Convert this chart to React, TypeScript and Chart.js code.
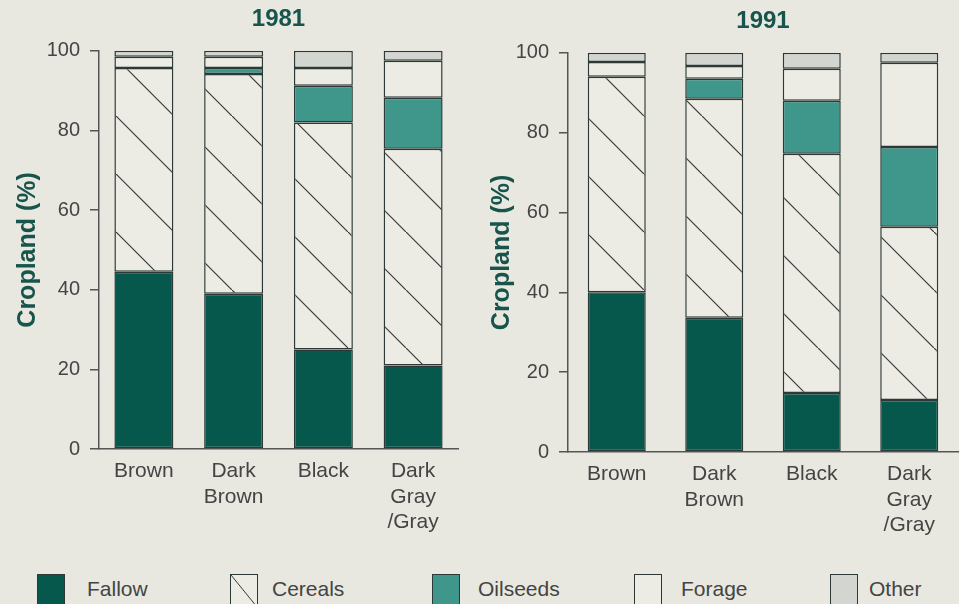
import React, { useEffect, useRef } from 'react';
import { Chart, registerables } from 'chart.js';

Chart.register(...registerables);

// ---------- data ----------
const categories = ['Brown', ['Dark', 'Brown'], 'Black', ['Dark', 'Gray', '/Gray']];
const yTickValues = [0, 20, 40, 60, 80, 100];
const seriesNames = ['Fallow', 'Cereals', 'Oilseeds', 'Forage', 'Other'];

const fallow1981 = [44.5, 39, 25, 21];
const cereals1981 = [51.2, 55.2, 57, 54.4];
const oilseeds1981 = [0, 1.5, 9.2, 12.8];
const forage1981 = [2.8, 2.8, 4.5, 9.3];
const other1981 = [1.5, 1.5, 4.3, 2.5];

const fallow1991 = [40, 33.6, 14.8, 13];
const cereals1991 = [54, 54.9, 59.9, 43.4];
const oilseeds1991 = [0, 5, 13.3, 20];
const forage1991 = [3.7, 3.2, 8, 21.1];
const other1991 = [2.3, 3.3, 4, 2.5];

// ---------- style ----------
const BG = '#e8e8e0';
const FALLOW = '#06584d';
const OILSEEDS = '#3f978b';
const FORAGE = '#ecece5';
const OTHER = '#d3d6d0';
const EDGE = '#2d3936';
const AXIS = '#555555';
const TEXT = '#444444';
const TITLE = '#17544c';
const FONT = "'Liberation Sans', Arial, Helvetica, sans-serif";

function makeHatch(): CanvasPattern | string {
  const c = document.createElement('canvas');
  c.width = 58;
  c.height = 58;
  const g = c.getContext('2d');
  if (!g) return FORAGE;
  g.fillStyle = FORAGE;
  g.fillRect(0, 0, 58, 58);
  g.strokeStyle = '#3a3a3a';
  g.lineWidth = 1.2;
  g.beginPath();
  g.moveTo(-2, -2);
  g.lineTo(60, 60);
  g.stroke();
  return g.createPattern(c, 'repeat') || FORAGE;
}

type Layout = {
  yWidth: number;
  xHeight: number;
  padRight: number;
  titlePadTop: number;
  titlePadBottom: number;
  yTitlePad: number;
  barPct: number;
};

function buildConfig(
  title: string,
  series: number[][],
  hatch: CanvasPattern | string,
  lay: Layout
): any {
  const colors = [FALLOW, hatch, OILSEEDS, FORAGE, OTHER];
  return {
    type: 'bar',
    data: {
      labels: categories,
      datasets: series.map((vals, i) => ({
        label: seriesNames[i],
        data: vals,
        backgroundColor: colors[i],
        borderColor: EDGE,
        borderWidth: 1.5,
        borderSkipped: false,
        barPercentage: lay.barPct,
        categoryPercentage: 1,
      })),
    },
    options: {
      responsive: false,
      animation: false,
      devicePixelRatio: 1,
      layout: { padding: { left: 0, right: lay.padRight, top: 0, bottom: 0 } },
      plugins: {
        legend: { display: false },
        tooltip: { enabled: false },
        title: {
          display: true,
          text: title,
          fullSize: false,
          color: TITLE,
          font: { family: FONT, size: 24, weight: 'bold' },
          padding: { top: lay.titlePadTop, bottom: lay.titlePadBottom },
        },
      },
      scales: {
        x: {
          stacked: true,
          grid: { display: false, drawTicks: false },
          border: { display: true, color: AXIS, width: 1.5 },
          ticks: {
            color: TEXT,
            font: { family: FONT, size: 21 },
            padding: 10,
            maxRotation: 0,
            autoSkip: false,
          },
          afterFit: (s: any) => {
            s.height = lay.xHeight;
          },
        },
        y: {
          stacked: true,
          min: 0,
          max: 100,
          afterBuildTicks: (s: any) => {
            s.ticks = yTickValues.map((v) => ({ value: v }));
          },
          grid: {
            drawOnChartArea: false,
            drawTicks: true,
            tickLength: 9,
            color: AXIS,
            lineWidth: 1.5,
          },
          border: { display: true, color: AXIS, width: 1.5 },
          ticks: {
            color: TEXT,
            font: { family: FONT, size: 20 },
            padding: 10,
          },
          title: {
            display: true,
            text: 'Cropland (%)',
            color: TITLE,
            font: { family: FONT, size: 25, weight: 'bold' },
            padding: { top: lay.yTitlePad, bottom: 0 },
          },
          afterFit: (s: any) => {
            s.width = lay.yWidth;
          },
        },
      },
    },
  };
}

const legendBoxLeft = [37, 230, 432, 634, 830];
const legendTextLeft = [87, 272, 478, 681, 869];

function LegendSwatch({ i }: { i: number }) {
  const fills = [FALLOW, '', OILSEEDS, FORAGE, OTHER];
  const style: React.CSSProperties = {
    position: 'absolute',
    left: legendBoxLeft[i],
    top: 574,
    width: 28,
    height: 34,
    boxSizing: 'border-box',
    border: `1.5px solid ${EDGE}`,
    background:
      i === 1
        ? `linear-gradient(to top right, ${FORAGE} calc(50% - 0.8px), #3a3a3a 50%, ${FORAGE} calc(50% + 0.8px))`
        : fills[i],
  };
  return <div style={style} />;
}

export default function App() {
  const leftRef = useRef<HTMLCanvasElement>(null);
  const rightRef = useRef<HTMLCanvasElement>(null);

  useEffect(() => {
    document.body.style.margin = '0';
    const hatch = makeHatch();
    const c1 = new Chart(
      leftRef.current as HTMLCanvasElement,
      buildConfig(
        '1981',
        [fallow1981, cereals1981, oilseeds1981, forage1981, other1981],
        hatch,
        {
          yWidth: 99,
          xHeight: 96,
          padRight: 12,
          titlePadTop: 5,
          titlePadBottom: 17,
          yTitlePad: 13,
          barPct: 0.657,
        }
      )
    );
    const c2 = new Chart(
      rightRef.current as HTMLCanvasElement,
      buildConfig(
        '1991',
        [fallow1991, cereals1991, oilseeds1991, forage1991, other1991],
        hatch,
        {
          yWidth: 98,
          xHeight: 93,
          padRight: 1,
          titlePadTop: 7,
          titlePadBottom: 17,
          yTitlePad: 17,
          barPct: 0.595,
        }
      )
    );
    return () => {
      c1.destroy();
      c2.destroy();
    };
  }, []);

  return (
    <div
      style={{
        position: 'absolute',
        left: 0,
        top: 0,
        width: 959,
        height: 604,
        overflow: 'hidden',
        background: BG,
        fontFamily: FONT,
      }}
    >
      <canvas
        ref={leftRef}
        width={470}
        height={545}
        style={{ position: 'absolute', left: 0, top: 0, width: 470, height: 545 }}
      />
      <canvas
        ref={rightRef}
        width={489}
        height={545}
        style={{ position: 'absolute', left: 470, top: 0, width: 489, height: 545 }}
      />
      {seriesNames.map((name, i) => (
        <React.Fragment key={name}>
          <LegendSwatch i={i} />
          <div
            style={{
              position: 'absolute',
              left: legendTextLeft[i],
              top: 576,
              fontSize: 21,
              lineHeight: '26px',
              color: TEXT,
              whiteSpace: 'nowrap',
            }}
          >
            {name}
          </div>
        </React.Fragment>
      ))}
    </div>
  );
}
